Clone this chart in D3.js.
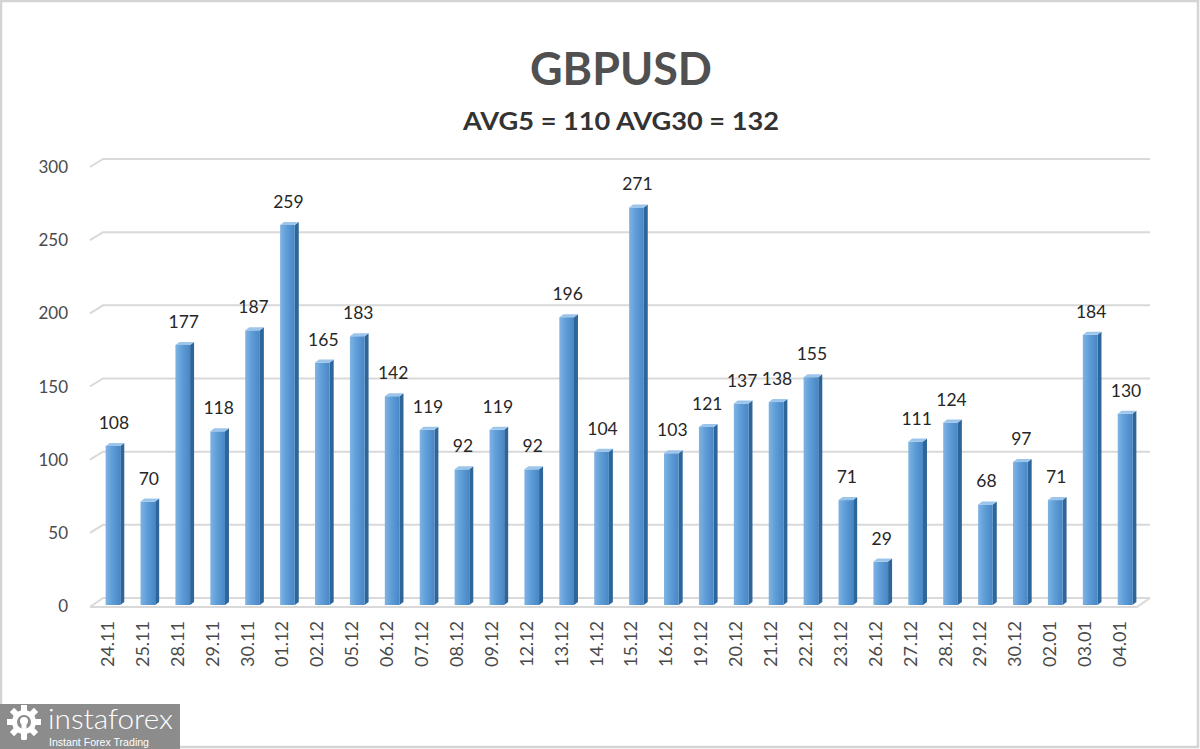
<!DOCTYPE html>
<html>
<head>
<meta charset="utf-8">
<script src="https://cdn.jsdelivr.net/npm/d3@7"></script>
<style>
  html, body { margin: 0; padding: 0; background: #fff; }
  svg { display: block; }
</style>
</head>
<body>
<svg id="chart" width="1200" height="749"></svg>
<script>
const title = "GBPUSD";
const subtitle = "AVG5 = 110 AVG30 = 132";
const categories = ["24.11","25.11","28.11","29.11","30.11","01.12","02.12","05.12","06.12","07.12","08.12","09.12","12.12","13.12","14.12","15.12","16.12","19.12","20.12","21.12","22.12","23.12","26.12","27.12","28.12","29.12","30.12","02.01","03.01","04.01"];
const values = [108,70,177,118,187,259,165,183,142,119,92,119,92,196,104,271,103,121,137,138,155,71,29,111,124,68,97,71,184,130];
const yTicks = [0,50,100,150,200,250,300];

const svg = d3.select("#chart");
const FONT = "Lato, 'Open Sans', 'DejaVu Sans', sans-serif";

// frame
svg.append("rect").attr("x",1).attr("y",1).attr("width",1197).attr("height",746)
  .attr("fill","#fff").attr("stroke","#d4d4d4").attr("stroke-width",2.5);

// defs
const defs = svg.append("defs");
const g1 = defs.append("linearGradient").attr("id","front").attr("x1","0").attr("x2","1").attr("y1","0").attr("y2","0");
g1.append("stop").attr("offset","0%").attr("stop-color","#7fb3e3");
g1.append("stop").attr("offset","45%").attr("stop-color","#5e9dd7");
g1.append("stop").attr("offset","100%").attr("stop-color","#4887c5");

const x = d3.scaleBand().domain(categories).range([95.5, 1142.5]).paddingInner(0.58).paddingOuter(0.29);
const y = d3.scaleLinear().domain([0,300]).range([604,165]);

const DX = 4, DY = 3;        // bar depth
const GX = 13, GF = 2, GB = 6; // grid perspective

// gridlines
const grid = svg.append("g");
yTicks.forEach(t => {
  const yf = y(t) + GF, yb = y(t) - GB;
  grid.append("path")
    .attr("d", `M${90},${yf + (t===0?1:0)} L${90+GX},${yb} L${1150},${yb}`)
    .attr("fill","none").attr("stroke","#d9d9d9").attr("stroke-width",2);
});
// floor front edge + right side
grid.append("path")
  .attr("d", `M90,${y(0)+GF+1} L1137,${y(0)+GF+1} L1150,${y(0)-GB}`)
  .attr("fill","none").attr("stroke","#d9d9d9").attr("stroke-width",2);

// y tick labels
svg.append("g").selectAll("text").data(yTicks).join("text")
  .attr("x",68).attr("y",d => y(d)+GF+6)
  .attr("text-anchor","end")
  .attr("font-family",FONT).attr("font-size",17).attr("fill","#4a4a4a")
  .text(d => d);

// bars
const bars = svg.append("g").selectAll("g").data(values).join("g");
const w = x.bandwidth();
bars.each(function(v,i){
  const g = d3.select(this);
  const x0 = x(categories[i]);
  const yt = y(v), y0 = y(0)+1;
  // side
  g.append("path")
    .attr("d",`M${x0+w},${yt} L${x0+w+DX},${yt-DY} L${x0+w+DX},${y0-DY} L${x0+w},${y0} Z`)
    .attr("fill","#2f6699");
  // front
  g.append("rect").attr("x",x0).attr("y",yt).attr("width",w).attr("height",y0-yt)
    .attr("fill","url(#front)");
  // top
  g.append("path")
    .attr("d",`M${x0},${yt} L${x0+DX},${yt-DY} L${x0+w+DX},${yt-DY} L${x0+w},${yt} Z`)
    .attr("fill","#9cc5ec");
});

// value labels
svg.append("g").selectAll("text").data(values).join("text")
  .attr("x",(d,i) => x(categories[i]) + w/2 + 1)
  .attr("y",d => y(d) - 17)
  .attr("text-anchor","middle")
  .attr("font-family",FONT).attr("font-size",17.5).attr("fill","#262626")
  .text(d => d);

// x labels (rotated)
svg.append("g").selectAll("text").data(categories).join("text")
  .attr("transform",(d) => `translate(${x(d)+w/2+1},621) rotate(-90)`)
  .attr("text-anchor","end")
  .attr("font-family",FONT).attr("font-size",18).attr("fill","#4a4a4a")
  .text(d => d);

// titles
svg.append("text").attr("x",621).attr("y",85).attr("text-anchor","middle")
  .attr("font-family",FONT).attr("font-weight","bold").attr("font-size",46)
  .attr("fill","#505050").attr("textLength",182).attr("lengthAdjust","spacingAndGlyphs")
  .text(title);
svg.append("text").attr("x",621).attr("y",130).attr("text-anchor","middle")
  .attr("font-family",FONT).attr("font-weight","bold").attr("font-size",25)
  .attr("fill","#333333").attr("textLength",316).attr("lengthAdjust","spacingAndGlyphs")
  .text(subtitle);

// logo
const logo = svg.append("g");
logo.append("rect").attr("x",0).attr("y",704).attr("width",180).attr("height",45).attr("fill","#8c8c8c");
const gear = logo.append("g").attr("transform","translate(24,722)");
for (let k=0;k<8;k++){
  gear.append("rect").attr("x",-3).attr("y",-17).attr("width",6).attr("height",8)
    .attr("fill","#fff").attr("transform",`rotate(${k*45})`);
}
gear.append("circle").attr("r",12).attr("fill","#fff");
gear.append("circle").attr("r",7).attr("fill","#8c8c8c");
gear.append("rect").attr("x",-2.5).attr("y",-2).attr("width",5).attr("height",20).attr("fill","#fff");
gear.append("circle").attr("r",4).attr("cy",-1).attr("fill","#fff");
logo.append("text").attr("x",48).attr("y",729)
  .attr("font-family",FONT).attr("font-size",27).attr("font-weight","300").attr("fill","#fff")
  .attr("textLength",125).attr("lengthAdjust","spacingAndGlyphs")
  .text("instaforex");
logo.append("text").attr("x",49).attr("y",746)
  .attr("font-family","'Liberation Sans', Arial, sans-serif").attr("font-size",10.5).attr("fill","#fff")
  .attr("textLength",100).attr("lengthAdjust","spacingAndGlyphs")
  .text("Instant Forex Trading");
</script>
</body>
</html>
